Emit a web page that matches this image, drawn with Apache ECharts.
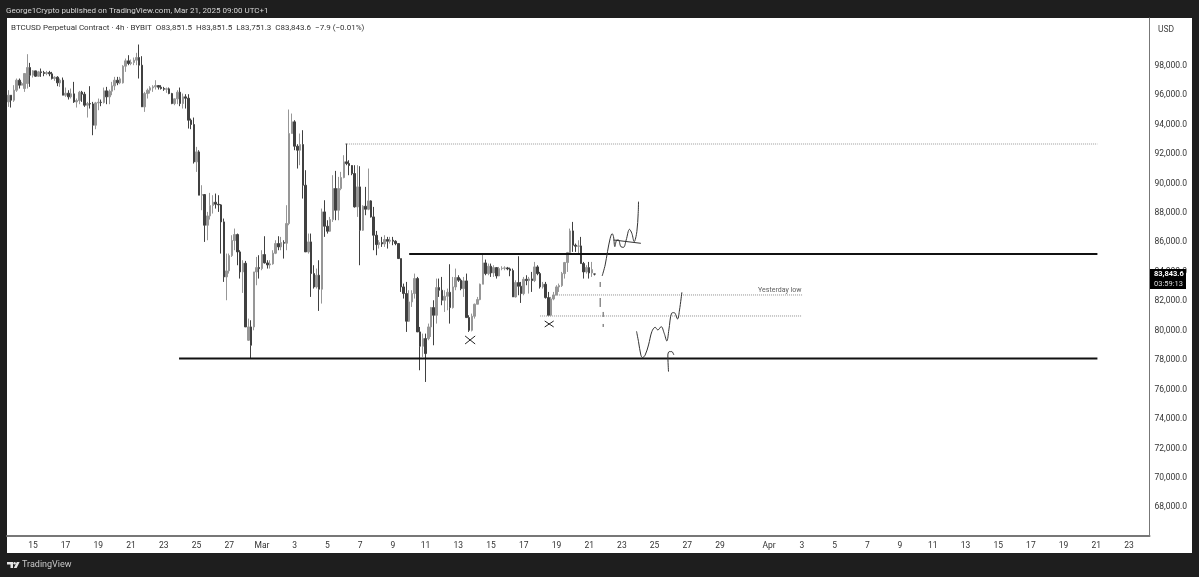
<!DOCTYPE html>
<html>
<head>
<meta charset="utf-8">
<style>html,body{margin:0;padding:0;background:#1e1e1e}#c{width:1199px;height:577px}</style>
<script src="https://cdn.jsdelivr.net/npm/echarts@6/dist/echarts.min.js"></script>
</head>
<body>
<div id="c"></div>
<script>
const opens = [
95542,95995,95655,96335,97015,96675,96448,96788,97875,97354,
97649,97286,97581,97535,97468,97535,97445,97128,97218,96833,
97015,95995,96131,95882,96086,95542,95633,96199,96063,95316,
95429,95400,93957,95474,95520,95500,96290,95882,96267,96630,
97015,96833,96833,97966,98328,98147,98215,98373,98555,98034,
95203,96108,96335,96494,96562,96652,96539,96448,96403,96426,
96108,95429,95746,96199,95429,95882,95791,94296,94002,91466,
92145,89201,89246,87162,87796,88499,88725,88589,88544,87389,
83652,84059,85101,86121,86528,85350,83991,84580,79348,80254,
80254,83991,84286,84218,85169,84603,84467,84535,85260,85917,
85690,85984,85939,87276,93391,94184,92530,92258,92643,89880,
85350,86030,83878,82972,83765,82814,88068,87094,86755,87547,
89654,88181,89654,90401,91466,91353,91217,90673,88408,89767,
86823,88453,88249,88816,87728,86483,85848,85984,85894,86189,
86075,86143,86075,85916,84897,82972,82519,80639,81952,82519,
83538,79914,78940,79461,79461,80253,81567,81046,82926,82745,
82065,82337,82609,81567,82971,83606,83424,82858,83379,80888,
80027,80978,81794,82111,83153,84602,83877,84376,83923,84285,
83719,84217,84240,84263,84195,84081,82292,83266,83017,82518,
83492,83402,83515,83402,84330,83877,82971,83153,82247,81046,
82156,82428,82971,83062,83877,84625,85304,86777,85803,85735,
85757,84557,83991,84285,83923,83851.5];
const closes = [
95995,95655,96335,97015,96675,96788,97468,97875,97354,97649,
97286,97581,97535,97468,97535,97445,97128,97218,96833,97015,
95995,96131,95882,96086,95542,95633,96199,96063,95316,95429,
95400,93957,95474,95520,95500,96290,95882,96267,96630,97015,
96833,97105,97966,98328,98147,98215,98373,98555,98034,95203,
96108,96335,96494,96562,96652,96539,96448,96403,96426,96108,
95429,95746,96199,95429,95882,95791,94296,94002,91465,92145,
89201,89246,87162,87796,88499,88725,88589,88544,87389,83652,
84059,85101,86121,86528,85350,83991,84580,80254,80254,79008,
83991,84286,84218,85169,84603,84467,84535,85260,85917,85690,
85984,85939,87276,93391,94184,92530,92258,92643,89880,85350,
86030,83878,82972,83765,82814,88068,87094,86755,87547,89654,
88181,89654,90401,91466,91353,91217,90673,88408,89767,86823,
88453,88249,88816,87728,86483,85848,85984,85894,86189,86075,
86143,86075,85916,84897,82972,82519,80639,81952,82519,83538,
79914,78940,79461,78442,80253,81567,81046,82926,82745,82065,
82337,82609,81567,82971,83606,83424,82858,83379,80888,80027,
80978,81794,82111,83153,84602,83877,84376,83923,84285,83719,
84217,84240,84263,84195,84081,82292,83266,83017,82518,83492,
83402,83515,83402,84330,83877,82971,83153,82247,81046,82156,
82428,82971,83062,83877,84625,85304,86777,85803,85735,85757,
84557,83991,84285,83923,84149,83843.6];
const highs = [
96335,95995,96675,97128,97128,96901,97468,98781,98192,97694,
97649,97649,97807,97649,97649,97649,97581,97286,97286,97128,
97196,96516,96335,96448,96901,95769,96290,96290,96222,95542,
96607,95542,95542,95769,95701,96516,96562,96380,96901,97241,
97241,97241,98034,98487,98713,98419,98555,98872,99438,98645,
96222,96448,96607,96675,97015,96675,96675,96562,96516,96516,
96154,95769,96335,96516,96108,96063,96063,94410,94478,92485,
92258,89880,89246,88068,89359,89201,89314,89201,88600,87615,
85237,85237,86483,86936,86596,85464,84784,84739,80820,80707,
83991,85010,85124,85464,86415,84784,84784,85464,86143,86415,
86370,86143,88521,95022,94750,94297,92666,93391,93618,90900,
86596,86596,84444,84218,84784,88295,88861,87502,87728,90560,
90854,90447,90786,91919,92712,91579,91239,91239,91239,91171,
88521,89767,91013,88861,88408,86777,86143,86370,86483,86370,
86370,86370,86143,85916,84897,83198,83311,82745,82745,83877,
83651,80253,79800,79800,80480,81612,82065,83538,83538,83651,
82745,82858,84512,83651,84217,83764,83538,83651,83877,81046,
81159,81839,82292,83198,85191,84829,84557,84557,84444,84300,
84330,84376,84376,84330,84285,84217,83424,85055,83311,83651,
83764,83651,83991,84670,84444,83991,83311,83311,82632,82292,
82632,83085,83198,83991,84670,85350,86935,87388,85916,86142,
86369,84670,84444,84670,84670,83851.5];
const lows = [
95203,95157,95542,96222,96448,96675,96222,96448,96562,97196,
97241,97241,97241,97286,97354,97286,97060,96969,96607,96562,
95995,95882,95701,95769,95474,95157,95384,95542,95203,94478,
95089,93277,93685,94976,95248,95429,95384,95384,95995,96335,
96675,96743,96788,97581,98034,98034,98034,98034,97128,95203,
94863,95769,96108,96222,96380,96380,96380,96290,96154,96063,
95384,95316,95384,95248,95089,95089,93730,93685,91352,90786,
89201,88182,86030,86143,87547,87955,88295,88068,85237,83312,
82066,83878,85010,85464,84444,83538,82564,80254,79303,78102,
80027,83085,83538,84105,84558,84218,84218,84480,85200,85464,
85464,84897,85464,87162,93391,92258,91013,91239,88974,85350,
85237,82292,82859,82859,81341,81840,86370,86596,86709,87389,
87502,87502,89541,90350,91239,90560,90560,88362,87728,84444,
86777,87842,88181,87683,85464,85124,85577,85690,85690,85577,
85916,85803,85803,84897,82632,82179,79914,80593,81613,82179,
79914,77309,78215,76516,79348,79574,79008,80480,82292,81726,
81273,81386,80480,81500,82745,83311,82745,82292,80888,79914,
79950,80820,81794,82065,83153,83764,83764,83651,83651,83538,
83700,84104,84104,84104,83696,82292,82247,82405,81884,82405,
83085,82518,82632,83300,83764,82858,82858,82179,80978,80980,
82065,82405,82632,82971,83538,83991,85236,85350,85350,85236,
84557,83538,83877,83538,83651,83751.3];

// One label per axis tick, keyed by calendar day
const dayTicks = {
'02-15':'15','02-17':'17','02-19':'19','02-21':'21','02-23':'23','02-25':'25','02-27':'27',
'03-01':'Mar','03-03':'3','03-05':'5','03-07':'7','03-09':'9','03-11':'11','03-13':'13','03-15':'15',
'03-17':'17','03-19':'19','03-21':'21','03-23':'23','03-25':'25','03-27':'27','03-29':'29',
'04-01':'Apr','04-03':'3','04-05':'5','04-07':'7','04-09':'9','04-11':'11','04-13':'13','04-15':'15',
'04-17':'17','04-19':'19','04-21':'21','04-23':'23'};
const priceTicks = [68000,70000,72000,74000,76000,78000,80000,82000,84000,86000,88000,90000,92000,94000,96000,98000];

// 4h slots of the time axis
const slotCount = 419;
const categories = [];
for (let i = 0; i < slotCount; i++) {
  const d = new Date(Date.UTC(2025, 1, 13, 12) + i * 4 * 3600 * 1000);
  const p = n => String(n).padStart(2, '0');
  categories.push(p(d.getUTCMonth() + 1) + '-' + p(d.getUTCDate()) + ' ' + p(d.getUTCHours()));
}

// Hand drawings, as [slot position, price]
const topLevel   = [[124.0,92680],[399.9,92680]];
const resistance = [[147.5,85200],[399.9,85200]];
const support    = [[63.1,78110],[399.9,78110]];
const yestLow    = [[201.0,82424],[291.6,82424]];
const lowLevel   = [[195.5,80997],[291.6,80997]];
const pathUp = [[218.27,83715],[219.37,84462],[220.23,85368],[221.21,86273],[221.94,86590],[222.43,86386],[222.92,85707],[223.65,86160],[224.26,86160],[225.12,85707],[226.10,85662],[227.08,86160],[228.30,86884],[229.15,86613],[230.01,86047],[230.99,86726],[231.48,87971],[231.60,88764]];
const pathUpFlat = [[222.43,86160],[232.46,85934]];
const pathDown = [[230.87,79957],[231.60,79255],[232.46,78349],[233.07,78168],[234.05,78349],[235.27,79028],[236.49,79934],[237.71,80228],[238.69,80047],[239.91,80274],[241.02,79821],[241.99,79300],[242.73,80047],[243.71,81179],[244.69,81224],[245.91,80794],[246.64,81406],[247.50,82606]];
const arrowPath = [[242.60,77217],[242.36,78349],[242.85,78576],[243.83,78576],[244.56,78349]];
const dashes = [
 [[217.54,83306],[217.54,82967]],
 [[217.54,82220],[217.54,81610]],
 [[218.64,81270],[218.64,80930]],
 [[218.64,80454],[218.64,80250]]];
const crosses = [
 [[168.0,79638],[171.7,79095]], [[168.0,79095],[171.7,79638]],
 [[197.2,80657],[200.5,80250]], [[197.2,80250],[200.5,80657]]];
const noteLabel = [[283.4,82770]];

const FONT = 'Roboto,"Noto Sans",sans-serif';
function ln(data, color, width, type, smooth) {
  return {type:'line', xAxisIndex:1, yAxisIndex:0, data, symbol:'none', smooth:smooth||false, silent:true, z:5,
    lineStyle:{color, width, type:type||'solid'}};
}
const series = [
  {type:'candlestick', xAxisIndex:0, yAxisIndex:0, barWidth:2, z:3,
   data: opens.map((o,i)=>[o,closes[i],lows[i],highs[i]]),
   itemStyle:{color:'#979797',color0:'#404040',borderColor:'#979797',borderColor0:'#404040',borderWidth:1}},
  ln(topLevel,'#9a9a9a',1,[1,1]),
  ln(resistance,'#111',2),
  ln(support,'#111',2),
  ln(yestLow,'#8f8f8f',1,[1,1]),
  ln(lowLevel,'#8f8f8f',1,[1,1]),
  ln(pathUp,'#333',1,'solid',0.35),
  ln(pathUpFlat,'#333',1),
  ln(pathDown,'#333',1,'solid',0.35),
  ln(arrowPath,'#333',1,'solid',0.3)
];
dashes.forEach(s=>series.push(ln(s,'#555',1)));
crosses.forEach(s=>series.push(ln(s,'#222',1)));
series.push({type:'scatter',xAxisIndex:1,yAxisIndex:0,data:noteLabel,symbolSize:1,silent:true,itemStyle:{color:'transparent'},
  label:{show:true,position:'inside',formatter:'Yesterday low',fontSize:7,color:'#333',fontFamily:FONT}});

const chart = echarts.init(document.getElementById('c'),null,{renderer:'canvas'});
chart.setOption({
  animation:false,
  backgroundColor:'#1e1e1e',
  grid:{left:7,width:1142.5,top:18,height:518,show:true,backgroundColor:'#fff',borderWidth:0},
  xAxis:[
    {type:'category',data:categories,boundaryGap:true,
     axisLine:{show:true,lineStyle:{color:'#777',width:2}},axisTick:{show:false},splitLine:{show:false},
     axisLabel:{color:'#333',fontSize:8.5,fontFamily:FONT,margin:5,hideOverlap:false,
       interval:(i,v)=>v.slice(6)==='00'&&dayTicks[v.slice(0,5)]!==undefined,
       formatter:v=>dayTicks[v.slice(0,5)]}},
    {type:'value',min:0,max:slotCount,show:false}
  ],
  yAxis:[{type:'value',position:'right',min:66050,max:101240,scale:true,
    axisLine:{show:true,onZero:false,lineStyle:{color:'#777',width:1}},axisTick:{show:false,customValues:priceTicks},splitLine:{show:false},
    axisLabel:{color:'#333',fontSize:8.5,fontFamily:FONT,margin:5,padding:[3,0,0,0],customValues:priceTicks,
      formatter:v=>Number(v).toLocaleString('en-US',{minimumFractionDigits:1,maximumFractionDigits:1})}}],
  series,
  graphic:[
    {type:'rect',z:-10,zlevel:0,silent:true,shape:{x:7,y:18,width:1185,height:535},style:{fill:'#fff'}},
    {type:'text',left:6,top:7,silent:true,style:{text:'George1Crypto published on TradingView.com, Mar 21, 2025 09:00 UTC+1',fill:'#d6d6d6',font:'8px '+FONT}},
    {type:'text',left:11,top:24,silent:true,style:{text:'BTCUSD Perpetual Contract · 4h · BYBIT  O83,851.5  H83,851.5  L83,751.3  C83,843.6  −7.9 (−0.01%)',fill:'#333',font:'8px '+FONT}},
    {type:'text',left:1158,top:25,silent:true,style:{text:'USD',fill:'#444',font:'8.5px '+FONT}},
    {type:'rect',silent:true,z:20,shape:{x:1150,y:269,width:36,height:20},style:{fill:'#000'}},
    {type:'text',left:1154,top:270,z:21,silent:true,style:{text:'83,843.6',fill:'#fff',font:'bold 7.5px '+FONT}},
    {type:'text',left:1154,top:280,z:21,silent:true,style:{text:'03:59:13',fill:'#ddd',font:'7.5px '+FONT}},
    {type:'polygon',silent:true,shape:{points:[[7,562],[13,562],[13,568],[10.5,568],[10.5,564.5],[7,564.5]]},style:{fill:'#e6e6e6'}},
    {type:'circle',silent:true,shape:{cx:14.6,cy:563.2,r:1.2},style:{fill:'#e6e6e6'}},
    {type:'polygon',silent:true,shape:{points:[[16.8,562],[19.6,562],[16.6,568],[13.8,568]]},style:{fill:'#e6e6e6'}},
    {type:'text',left:22,top:560,silent:true,style:{text:'TradingView',fill:'#c8c8c8',font:'9px '+FONT}}
  ]
});
</script>
</body>
</html>
